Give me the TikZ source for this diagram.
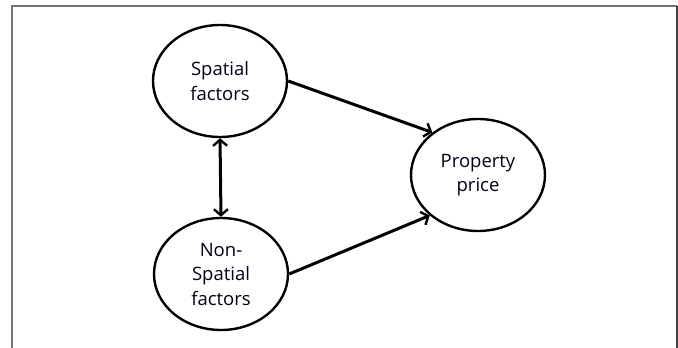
\documentclass[tikz,border=0pt]{standalone}
\usepackage{fontspec}
\setmainfont{Open Sans}
\usetikzlibrary{arrows.meta,shapes.geometric}
\begin{document}
\begin{tikzpicture}[x=1pt,y=-1pt,
  factor/.style={ellipse,draw=black,line width=2.4pt,minimum width=134pt,minimum height=112pt,inner sep=0pt,align=center,font=\fontsize{18.5}{24.5}\selectfont,text=black!92!blue},
  link/.style={line width=3pt,-{Straight Barb[length=6pt,width=14pt,line width=2.4pt]}},
  twolink/.style={line width=3pt,{Straight Barb[length=6pt,width=14pt,line width=2.4pt]}-{Straight Barb[length=6pt,width=14pt,line width=2.4pt]}}]
\useasboundingbox (0,0) rectangle (678,348);
\draw[black!55,line width=1.2pt] (12,348) -- (12,6) -- (677,6);
\draw[black!75,line width=2pt] (676.5,6) -- (676.5,348);
\node[factor] (sp) at (220,81) {Spatial\\factors};
\node[factor] (ns) at (221,274) {Non-\\Spatial\\factors};
\node[factor] (pp) at (478,175) {Property\\price};
\draw[link] (sp.east) -- (pp.137);
\draw[link] (ns.east) -- (pp.220);
\draw[twolink] (sp.south) -- (ns.north);
\end{tikzpicture}
\end{document}
